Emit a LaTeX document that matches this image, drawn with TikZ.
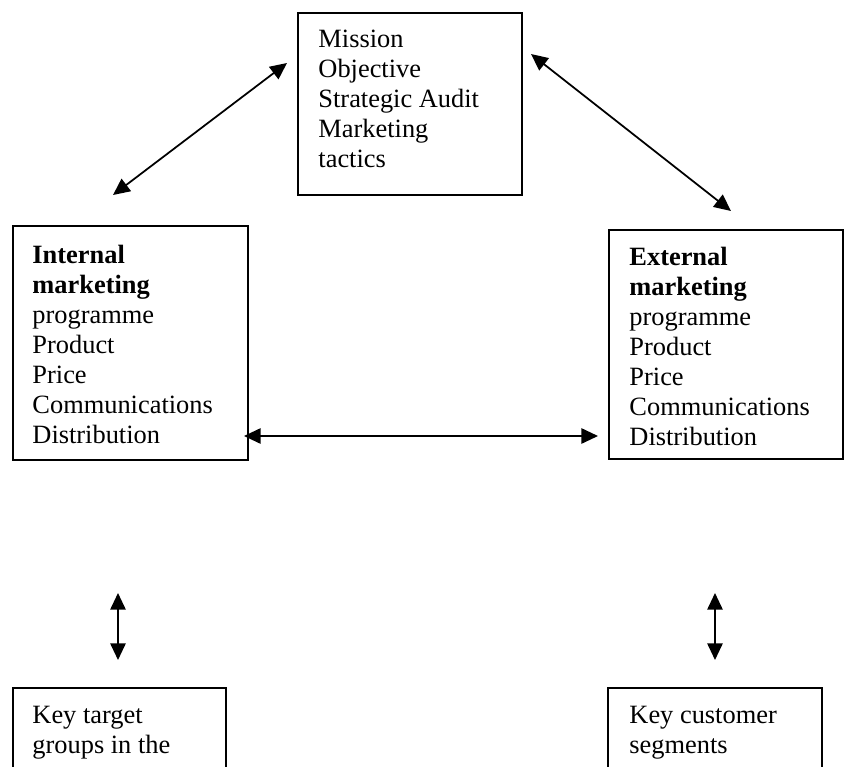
\documentclass[tikz,border=0pt]{standalone}
\usepackage{fontspec}
\setmainfont{Liberation Serif}
\usetikzlibrary{arrows.meta}
\tikzset{
  box/.style={draw, line width=0.8pt, anchor=north west, inner sep=0pt},
  txt/.style={anchor=north west, inner sep=0pt, align=left, yshift=10pt,
    font=\fontsize{12pt}{13.64pt}\selectfont},
  link/.style={line width=0.8pt, {Triangle[length=7.6pt,width=7pt]}-{Triangle[length=7.6pt,width=7pt]}}
}
\begin{document}
\begin{tikzpicture}[x=0.4545pt,y=-0.4545pt]
\useasboundingbox (0,0) rectangle (845,767);
\clip (0,0) rectangle (845,767);
% boxes
\node[box, minimum width={224*0.4545pt}, minimum height={182*0.4545pt}] (top) at (297,12) {};
\node[box, minimum width={235*0.4545pt}, minimum height={234*0.4545pt}] (intl) at (12,225) {};
\node[box, minimum width={234*0.4545pt}, minimum height={229*0.4545pt}] (extl) at (608,229) {};
\node[box, minimum width={213*0.4545pt}, minimum height={120*0.4545pt}] (ktg) at (12,687) {};
\node[box, minimum width={214*0.4545pt}, minimum height={120*0.4545pt}] (kcs) at (607,687) {};
% texts
\node[txt] (toptext) at (318,47) {\rule{0pt}{10pt}Mission\\Objective\\Strategic Audit\\Marketing\\tactics};
\node[txt] (intltext) at (32,263) {\rule{0pt}{10pt}\textbf{Internal}\\\textbf{marketing}\\programme\\Product\\Price\\Communications\\Distribution};
\node[txt] (extltext) at (629,265) {\rule{0pt}{10pt}\textbf{External}\\\textbf{marketing}\\programme\\Product\\Price\\Communications\\Distribution};
\node[txt] (ktgtext) at (32,723) {\rule{0pt}{10pt}Key target\\groups in the};
\node[txt] (kcstext) at (629,723) {\rule{0pt}{10pt}Key customer\\segments};
% connector ends
\coordinate (a1) at (113,195);
\coordinate (a2) at (287,63);
\coordinate (b1) at (531,54);
\coordinate (b2) at (731,211);
\coordinate (c1) at (244,436);
\coordinate (c2) at (598,436);
\coordinate (d1) at (118,593);
\coordinate (d2) at (118,660);
\coordinate (e1) at (715,593);
\coordinate (e2) at (715,660);
\draw[link] (a1) -- (a2);
\draw[link] (b1) -- (b2);
\draw[link] (c1) -- (c2);
\draw[link] (d1) -- (d2);
\draw[link] (e1) -- (e2);
\end{tikzpicture}
\end{document}
